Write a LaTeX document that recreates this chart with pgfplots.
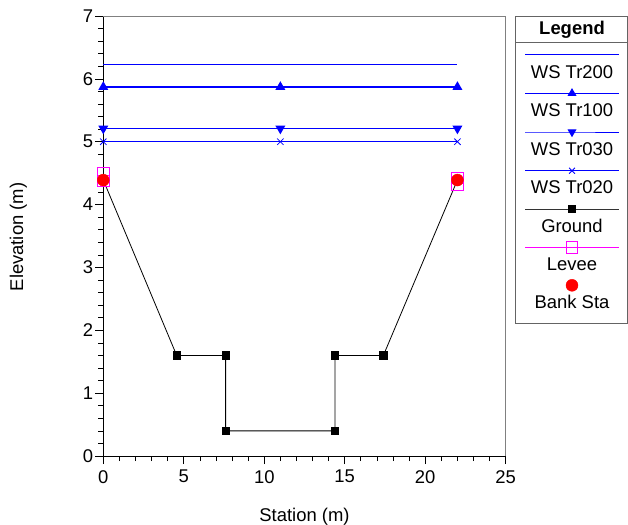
\documentclass[border=0pt]{standalone}
\usepackage{fontspec}
\setmainfont{Liberation Sans}
\usepackage{pgfplots}
\pgfplotsset{compat=1.18}
\definecolor{wsblue}{RGB}{0,0,255}
\definecolor{levee}{RGB}{255,0,255}
\definecolor{frame}{RGB}{100,100,100}
\begin{document}
\begin{tikzpicture}[font=\fontsize{18.5}{22}\selectfont]
\path[use as bounding box] (0,0) rectangle (628bp,-525bp);
\begin{axis}[
  at={(103.3bp,-456bp)}, anchor=south west,
  scale only axis, width=402.4bp, height=440bp,
  xmin=0, xmax=25, ymin=0, ymax=7,
  clip=false,
  axis lines*=left,
  axis line style={black, line width=0.8bp},
  xtick={0,5,...,25}, ytick={0,1,...,7},
  minor x tick num=4, minor y tick num=4,
  tick align=outside,
  major tick length=8bp, minor tick length=5bp,
  tick style={black, line width=0.7bp},
  /pgf/number format/assume math mode=true,
  xticklabel style={inner sep=0pt, anchor=north, yshift=-6bp},
  yticklabel style={inner sep=0pt, anchor=east, xshift=-2bp},
  xlabel={Station (m)},
  xlabel style={at={(axis description cs:0.5,0)}, anchor=base, inner sep=0pt, yshift=-65.5bp},
]
\draw[black!50, line width=0.8bp] (axis cs:0,7) -- (axis cs:25,7) -- (axis cs:25,0);
\addplot[wsblue, line width=1.3bp, mark=none] coordinates {(0,6.23) (22,6.23)};
\addplot[wsblue, line width=1.3bp, mark=triangle*, mark size=4.5bp, mark options={fill=wsblue}] coordinates {(0,5.87) (11,5.87) (22,5.87)};
\addplot[wsblue, line width=1.3bp, mark=triangle*, mark size=4.5bp, mark options={fill=wsblue, rotate=180}] coordinates {(0,5.21) (11,5.21) (22,5.21)};
\addplot[wsblue, line width=1.3bp, mark=x, mark size=4.5bp, mark options={line width=0.8bp}] coordinates {(0,5.0) (11,5.0) (22,5.0)};
\addplot[black, line width=0.8bp, mark=square*, mark size=3.6bp, mark options={fill=black}] coordinates {(0,4.39) (4.56,1.6) (7.6,1.6) (7.6,0.4) (14.4,0.4) (14.4,1.6) (17.4,1.6) (22,4.39)};
\addplot[only marks, levee, mark=square, mark size=5.6bp, mark options={line width=0.8bp}] coordinates {(0,4.5) (0,4.38) (22,4.43) (22,4.32)};
\addplot[only marks, red, mark=*, mark size=6bp, mark options={fill=red, draw=red}] coordinates {(0,4.39) (22,4.39)};
\end{axis}
\node[rotate=90, anchor=base, inner sep=0pt] at (23bp,-237bp) {Elevation (m)};
\draw[frame, line width=0.8bp] (515.5bp,-16.7bp) rectangle (627.3bp,-323.3bp);
\draw[frame, line width=0.8bp] (515.5bp,-42.7bp) -- (627.3bp,-42.7bp);
\begin{axis}[
  at={(515.5bp,-323.3bp)}, anchor=south west,
  scale only axis, width=111.8bp, height=306.6bp,
  xmin=515.5, xmax=627.3, ymin=-323.3, ymax=-16.7,
  hide axis, clip=false,
]
\node[font=\fontsize{18.5}{22}\selectfont\bfseries, anchor=base, inner sep=0pt] at (axis cs:572,-35) {Legend};
\addplot[wsblue, line width=1bp, mark=none] coordinates {(525,-55) (619,-55)};
\node[anchor=base, inner sep=0pt] at (axis cs:572,-78.3) {WS Tr200};
\addplot[wsblue, line width=1bp, mark=triangle*, mark size=4.2bp, mark options={fill=wsblue}, mark indices={2}] coordinates {(525,-93.3) (572,-93.3) (619,-93.3)};
\node[anchor=base, inner sep=0pt] at (axis cs:572,-116.7) {WS Tr100};
\addplot[wsblue, line width=1bp, mark=triangle*, mark size=4.2bp, mark options={fill=wsblue, rotate=180}, mark indices={2}] coordinates {(525,-132) (572,-132) (619,-132)};
\node[anchor=base, inner sep=0pt] at (axis cs:572,-155) {WS Tr030};
\addplot[wsblue, line width=1bp, mark=x, mark size=4.2bp, mark options={line width=0.8bp}, mark indices={2}] coordinates {(525,-170.7) (572,-170.7) (619,-170.7)};
\node[anchor=base, inner sep=0pt] at (axis cs:572,-193.7) {WS Tr020};
\addplot[black!80, line width=1bp, mark=square*, mark size=3.6bp, mark options={fill=black, draw=black}, mark indices={2}] coordinates {(525,-209.3) (572,-209.3) (619,-209.3)};
\node[anchor=base, inner sep=0pt] at (axis cs:572,-232) {Ground};
\addplot[levee, line width=0.8bp, mark=square, mark size=5.8bp, mark indices={2}] coordinates {(525,-247.3) (572,-247.3) (619,-247.3)};
\node[anchor=base, inner sep=0pt] at (axis cs:572,-270.7) {Levee};
\addplot[only marks, red, mark=*, mark size=6bp, mark options={fill=red, draw=red}] coordinates {(572,-285.3)};
\node[anchor=base, inner sep=0pt] at (axis cs:572,-308) {Bank Sta};
\end{axis}
\end{tikzpicture}
\end{document}
